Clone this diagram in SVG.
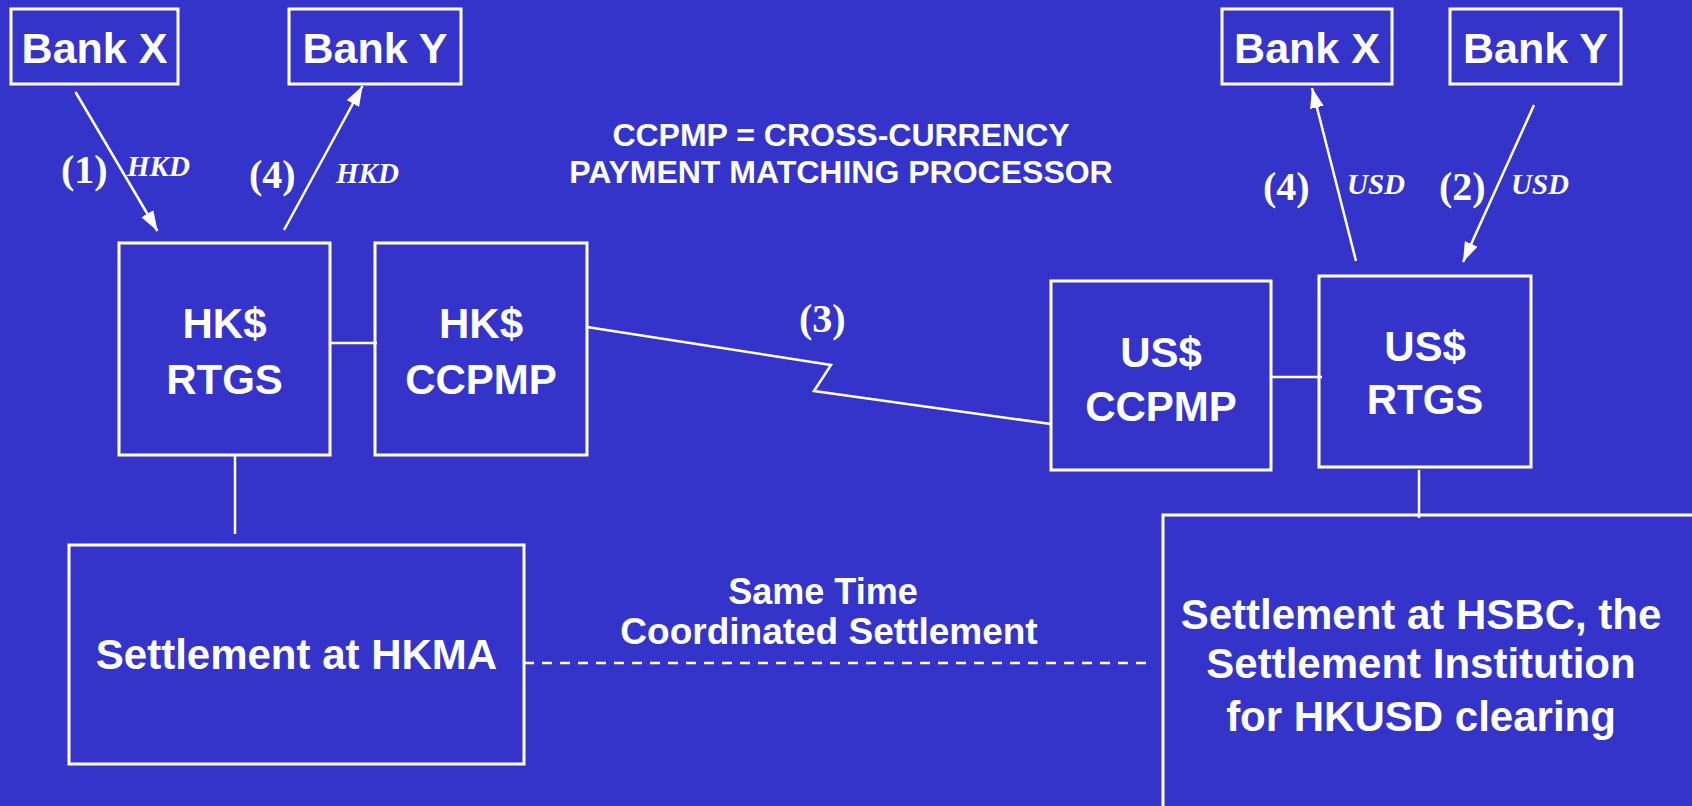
<svg xmlns="http://www.w3.org/2000/svg" width="1692" height="806" viewBox="0 0 1692 806">
<defs>
<style>
.box{fill:none;stroke:#fff;stroke-width:3}
.ln{stroke:#fff;stroke-width:2.5;fill:none}
.t{font-family:"Liberation Sans",Arial,sans-serif;font-weight:bold;fill:#fff;text-anchor:middle}
.num{font-family:"Liberation Serif","Times New Roman",serif;font-weight:bold;fill:#fff;font-size:40px}
.cur{font-family:"Liberation Serif","Times New Roman",serif;font-weight:bold;font-style:italic;fill:#fff;font-size:29px}
</style>
<marker id="ah" viewBox="0 0 20 14" refX="20" refY="7" markerWidth="20" markerHeight="14" markerUnits="userSpaceOnUse" orient="auto">
<path d="M0,0 L20,7 L0,14 Z" fill="#fff"/>
</marker>
</defs>
<rect width="1692" height="806" fill="#3434CB"/>

<g id="bankx-left"><rect class="box" x="11" y="9" width="167" height="75"/><text class="t" x="94.5" y="63" font-size="43">Bank X</text></g>
<g id="banky-left"><rect class="box" x="289" y="9" width="172" height="75"/><text class="t" x="375" y="63" font-size="43">Bank Y</text></g>
<g id="bankx-right"><rect class="box" x="1222" y="9" width="170" height="75"/><text class="t" x="1307" y="63" font-size="43">Bank X</text></g>
<g id="banky-right"><rect class="box" x="1450" y="9" width="171" height="75"/><text class="t" x="1535.5" y="63" font-size="43">Bank Y</text></g>

<g id="hk-rtgs"><rect class="box" x="119" y="243" width="211" height="212"/><text class="t" x="224.5" y="338" font-size="42">HK$</text><text class="t" x="224.5" y="394" font-size="42">RTGS</text></g>
<g id="hk-ccpmp"><rect class="box" x="375" y="243" width="212" height="212"/><text class="t" x="481" y="338" font-size="42">HK$</text><text class="t" x="481" y="394" font-size="42">CCPMP</text></g>
<g id="us-ccpmp"><rect class="box" x="1051" y="281" width="220" height="189"/><text class="t" x="1161" y="367" font-size="42">US$</text><text class="t" x="1161" y="421" font-size="42">CCPMP</text></g>
<g id="us-rtgs"><rect class="box" x="1319" y="276" width="212" height="191"/><text class="t" x="1425" y="361" font-size="42">US$</text><text class="t" x="1425" y="414" font-size="42">RTGS</text></g>

<g id="hkma"><rect class="box" x="69" y="545" width="455" height="219"/><text class="t" x="296.5" y="669" font-size="42">Settlement at HKMA</text></g>
<g id="hsbc"><rect class="box" x="1163" y="515" width="540" height="300"/>
<text class="t" x="1421" y="629" font-size="42">Settlement at HSBC, the</text>
<text class="t" x="1421" y="678" font-size="42">Settlement Institution</text>
<text class="t" x="1421" y="731" font-size="42">for HKUSD clearing</text></g>

<g id="title"><text class="t" x="841" y="146" font-size="32">CCPMP = CROSS-CURRENCY</text><text class="t" x="841" y="183" font-size="32">PAYMENT MATCHING PROCESSOR</text></g>

<g id="connectors">
<line class="ln" x1="75.5" y1="92" x2="157.5" y2="231" marker-end="url(#ah)"/>
<line class="ln" x1="284" y1="230" x2="362.5" y2="86" marker-end="url(#ah)"/>
<line class="ln" x1="1356" y1="261" x2="1312" y2="88" marker-end="url(#ah)"/>
<line class="ln" x1="1534" y1="105" x2="1463" y2="262" marker-end="url(#ah)"/>
<line class="ln" x1="330" y1="343" x2="377" y2="343"/>
<line class="ln" x1="235" y1="455" x2="235" y2="534"/>
<line class="ln" x1="1271" y1="377" x2="1322" y2="377"/>
<line class="ln" x1="1419" y1="470" x2="1419" y2="518"/>
<polyline class="ln" points="587,327 831,365 814,391 1051,424"/>
<line class="ln" x1="524" y1="663" x2="1149" y2="663" stroke-dasharray="10 8"/>
</g>

<g id="labels">
<text class="num" x="61" y="183">(1)</text>
<text class="cur" x="127" y="176">HKD</text>
<text class="num" x="249" y="188">(4)</text>
<text class="cur" x="336" y="183">HKD</text>
<text class="num" x="1263" y="200">(4)</text>
<text class="cur" x="1347" y="194">USD</text>
<text class="num" x="1439" y="200">(2)</text>
<text class="cur" x="1511" y="194">USD</text>
<text class="num" x="799" y="332">(3)</text>
<text class="t" x="823" y="604" font-size="36">Same Time</text>
<text class="t" x="829" y="644" font-size="37">Coordinated Settlement</text>
</g>
</svg>
